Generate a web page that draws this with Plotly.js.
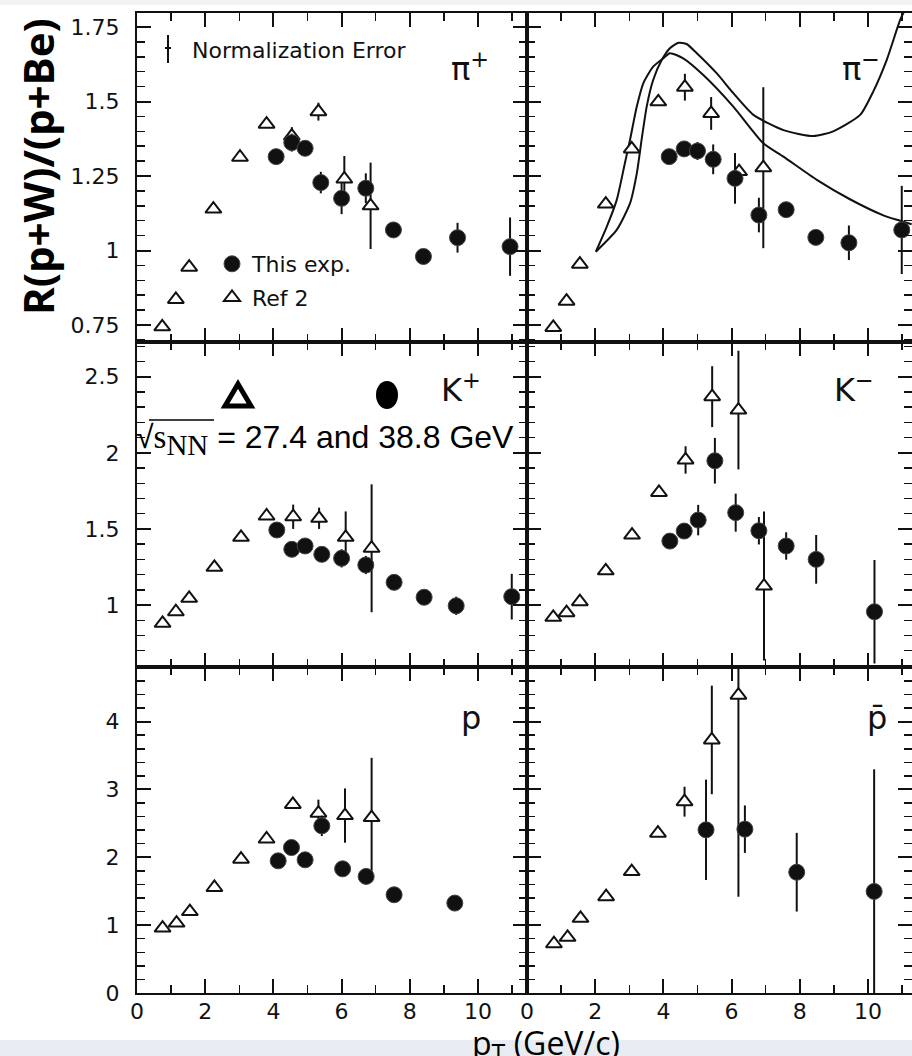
<!DOCTYPE html>
<html>
<head>
<meta charset="utf-8">
<script src="https://cdn.plot.ly/plotly-3.0.1.min.js"></script>
<style>html,body{margin:0;padding:0;background:#fff;overflow:hidden}</style>
</head>
<body>
<div id="chart" style="width:912px;height:1056px"></div>
<script>
// ---------- data ----------
// pi+
const piPlusExpX   = [4.08, 4.54, 4.93, 5.39, 6.00, 6.71, 7.52, 8.40, 9.40, 10.94];
const piPlusExpY   = [1.315, 1.362, 1.343, 1.228, 1.175, 1.209, 1.069, 0.980, 1.043, 1.013];
const piPlusExpErr = [0.01, 0.03, 0.025, 0.036, 0.053, 0.05, 0, 0, 0.05, 0.098];
const piPlusRefX   = [0.74, 1.14, 1.53, 2.24, 3.02, 3.80, 4.54, 5.32, 6.08, 6.85];
const piPlusRefY   = [0.744, 0.836, 0.944, 1.139, 1.313, 1.424, 1.384, 1.466, 1.240, 1.150];
const piPlusRefErr = [0, 0, 0, 0, 0, 0, 0.03, 0.03, 0.077, 0.145];
// pi-
const piMinusExpX   = [4.17, 4.61, 5.00, 5.46, 6.10, 6.80, 7.60, 8.47, 9.44, 10.99];
const piMinusExpY   = [1.315, 1.341, 1.334, 1.306, 1.242, 1.119, 1.137, 1.044, 1.026, 1.069];
const piMinusExpErr = [0.01, 0.02, 0.03, 0.05, 0.085, 0.058, 0, 0, 0.058, 0.148];
const piMinusRefX   = [0.77, 1.16, 1.55, 2.31, 3.07, 3.85, 4.63, 5.40, 6.22, 6.93];
const piMinusRefY   = [0.742, 0.830, 0.954, 1.156, 1.341, 1.499, 1.548, 1.460, 1.265, 1.278];
const piMinusRefErr = [0, 0, 0, 0, 0, 0, 0.045, 0.055, 0, 0.27];
// pi- theory curves
const curveAX = [2.02, 2.34, 2.63, 2.87, 3.02, 3.22, 3.41, 3.70, 4.00, 4.19, 4.58, 5.17, 6.05, 6.93, 7.52, 8.50, 9.47, 10.45, 10.94, 11.28];
const curveAY = [0.996, 1.080, 1.169, 1.293, 1.371, 1.483, 1.561, 1.617, 1.645, 1.662, 1.645, 1.589, 1.483, 1.360, 1.315, 1.237, 1.172, 1.118, 1.100, 1.088];
const curveBX = [2.02, 2.63, 3.02, 3.22, 3.36, 3.51, 3.70, 3.95, 4.19, 4.44, 4.68, 4.98, 5.56, 6.05, 6.64, 7.52, 8.40, 8.98, 9.77, 10.16, 10.55, 10.94, 11.08];
const curveBY = [0.996, 1.069, 1.158, 1.259, 1.371, 1.483, 1.572, 1.639, 1.679, 1.697, 1.693, 1.662, 1.595, 1.528, 1.455, 1.404, 1.384, 1.400, 1.455, 1.535, 1.640, 1.773, 1.807];
// K+
const kPlusExpX   = [4.10, 4.54, 4.93, 5.42, 6.00, 6.71, 7.54, 8.42, 9.36, 10.99];
const kPlusExpY   = [1.493, 1.366, 1.388, 1.333, 1.307, 1.263, 1.149, 1.051, 0.995, 1.055];
const kPlusExpErr = [0.02, 0.02, 0.02, 0.05, 0.06, 0.06, 0, 0, 0.06, 0.15];
const kPlusRefX   = [0.75, 1.14, 1.53, 2.27, 3.05, 3.80, 4.58, 5.34, 6.12, 6.88];
const kPlusRefY   = [0.880, 0.956, 1.044, 1.248, 1.445, 1.585, 1.580, 1.570, 1.445, 1.373];
const kPlusRefErr = [0, 0, 0, 0, 0, 0, 0.08, 0.07, 0.17, 0.42];
// K-
const kMinusExpX   = [4.19, 4.61, 5.02, 5.51, 6.12, 6.80, 7.60, 8.48, 10.19];
const kMinusExpY   = [1.420, 1.486, 1.558, 1.948, 1.607, 1.488, 1.388, 1.300, 0.956];
const kMinusExpErr = [0.02, 0.04, 0.10, 0.15, 0.125, 0.09, 0.09, 0.16, 0.34];
const kMinusRefX   = [0.77, 1.16, 1.55, 2.31, 3.08, 3.87, 4.65, 5.43, 6.20, 6.95];
const kMinusRefY   = [0.919, 0.950, 1.022, 1.225, 1.460, 1.740, 1.953, 2.369, 2.281, 1.125];
const kMinusRefErr = [0, 0, 0, 0, 0, 0, 0.09, 0.20, 0.39, 0.49];
// p
const pExpX   = [4.14, 4.53, 4.93, 5.42, 6.03, 6.72, 7.54, 9.32];
const pExpY   = [1.948, 2.144, 1.963, 2.464, 1.830, 1.718, 1.448, 1.325];
const pExpErr = [0, 0.08, 0, 0.15, 0, 0, 0, 0];
const pRefX   = [0.75, 1.16, 1.55, 2.27, 3.05, 3.80, 4.57, 5.32, 6.10, 6.88];
const pRefY   = [0.957, 1.030, 1.200, 1.555, 1.973, 2.270, 2.780, 2.650, 2.615, 2.586];
const pRefErr = [0, 0, 0, 0, 0, 0, 0, 0.2, 0.4, 0.88];
// p-bar
const pbarExpX   = [5.25, 6.39, 7.91, 10.18];
const pbarExpY   = [2.405, 2.415, 1.780, 1.497];
const pbarExpErr = [0.74, 0.35, 0.58, 1.8];
const pbarRefX   = [0.79, 1.19, 1.57, 2.32, 3.07, 3.84, 4.62, 5.42, 6.20];
const pbarRefY   = [0.726, 0.820, 1.100, 1.420, 1.790, 2.356, 2.820, 3.730, 4.390];
const pbarRefErr = [0, 0, 0, 0, 0, 0, 0.22, 0.8, 2.97];

const panelLabels = ['π<sup>+</sup>', 'π<sup>−</sup>', 'K<sup>+</sup>', 'K<sup>−</sup>', 'p', 'p̄'];
const legendNames = ['This exp.', 'Ref 2'];

// ---------- helpers ----------
const INK = '#111';
function refTrace(x, y, e, xa, ya, show) {
  return {x, y, xaxis: xa, yaxis: ya, type: 'scatter', mode: 'markers', name: legendNames[1],
    legendgroup: 'ref', showlegend: show, legendrank: 2,
    marker: {symbol: 'triangle-up', size: 14, color: 'white', line: {color: INK, width: 2}},
    error_y: {type: 'data', array: e, visible: true, thickness: 2, width: 0, color: INK}};
}
function expTrace(x, y, e, xa, ya, show) {
  return {x, y, xaxis: xa, yaxis: ya, type: 'scatter', mode: 'markers', name: legendNames[0],
    legendgroup: 'exp', showlegend: show, legendrank: 1,
    marker: {symbol: 'circle', size: 16, color: INK, line: {color: '#444', width: 1}},
    error_y: {type: 'data', array: e, visible: true, thickness: 2, width: 0, color: INK}};
}
function curveTrace(x, y) {
  return {x, y, xaxis: 'x2', yaxis: 'y2', type: 'scatter', mode: 'lines', showlegend: false,
    line: {color: INK, width: 2, shape: 'spline', smoothing: 0.6}, hoverinfo: 'skip'};
}

const data = [
  curveTrace(curveAX, curveAY), curveTrace(curveBX, curveBY),
  refTrace(piPlusRefX, piPlusRefY, piPlusRefErr, 'x', 'y', true),
  expTrace(piPlusExpX, piPlusExpY, piPlusExpErr, 'x', 'y', true),
  refTrace(piMinusRefX, piMinusRefY, piMinusRefErr, 'x2', 'y2', false),
  expTrace(piMinusExpX, piMinusExpY, piMinusExpErr, 'x2', 'y2', false),
  refTrace(kPlusRefX, kPlusRefY, kPlusRefErr, 'x3', 'y3', false),
  expTrace(kPlusExpX, kPlusExpY, kPlusExpErr, 'x3', 'y3', false),
  refTrace(kMinusRefX, kMinusRefY, kMinusRefErr, 'x4', 'y4', false),
  expTrace(kMinusExpX, kMinusExpY, kMinusExpErr, 'x4', 'y4', false),
  refTrace(pRefX, pRefY, pRefErr, 'x5', 'y5', false),
  expTrace(pExpX, pExpY, pExpErr, 'x5', 'y5', false),
  refTrace(pbarRefX, pbarRefY, pbarRefErr, 'x6', 'y6', false),
  expTrace(pbarExpX, pbarExpY, pbarExpErr, 'x6', 'y6', false)
];

// ---------- layout ----------
const ML = 137, MT = 13, MB = 63, W = 912, H = 1056;
const PW = W - ML, PH = H - MT - MB;
const px = v => (v - ML) / PW;          // pixel -> paper x
const py = v => (H - MB - v) / PH;      // pixel -> paper y

const TICKFONT = {family: 'DejaVu Sans', size: 22, color: INK};
function ax(extra) {
  return Object.assign({
    showline: true, linecolor: INK, linewidth: 2, mirror: 'ticks',
    ticks: 'inside', ticklen: 14, tickwidth: 2, tickcolor: INK,
    showgrid: false, zeroline: false, tickfont: TICKFONT, fixedrange: true
  }, extra);
}
const MINOR = d => ({dtick: d, ticks: 'inside', ticklen: 8, tickwidth: 1.5, tickcolor: INK});
const xL = [0, px(527)], xR = [px(527), 1];
const rowT = [py(342), 1], rowM = [py(667), py(342)], rowB = [0, py(667)];
const xRangeL = [0, 390 / 34.1], xRangeR = [0, (W - 527) / 34.1];
const xTick = {dtick: 2, tick0: 0, minor: MINOR(1), ticklabelstandoff: -2};
const yT = {range: [0.693, 1.797], dtick: 0.25, tick0: 0.75, minor: MINOR(0.05), ticklabelstandoff: 11};
const yM = {range: [0.593, 2.728], dtick: 0.5, tick0: 1, minor: MINOR(0.1), ticklabelstandoff: 11};
const yB = {range: [0, 4.805], dtick: 1, tick0: 0, minor: MINOR(0.2), ticklabelstandoff: 11};

function label(text, x, y, size, extra) {
  return Object.assign({text, xref: 'paper', yref: 'paper', x: px(x), y: py(y),
    xanchor: 'center', yanchor: 'middle', showarrow: false,
    font: {family: 'DejaVu Sans', size, color: INK}}, extra || {});
}

const layout = {
  width: W, height: H,
  margin: {l: ML, r: 0, t: MT, b: MB, pad: 0},
  paper_bgcolor: 'white', plot_bgcolor: 'white',
  font: {family: 'DejaVu Sans', color: INK},
  xaxis:  ax(Object.assign({domain: xL, range: xRangeL, anchor: 'y',  showticklabels: false}, xTick)),
  xaxis2: ax(Object.assign({domain: xR, range: xRangeR, anchor: 'y2', showticklabels: false}, xTick)),
  xaxis3: ax(Object.assign({domain: xL, range: xRangeL, anchor: 'y3', showticklabels: false}, xTick)),
  xaxis4: ax(Object.assign({domain: xR, range: xRangeR, anchor: 'y4', showticklabels: false}, xTick)),
  xaxis5: ax(Object.assign({domain: xL, range: xRangeL, anchor: 'y5'}, xTick)),
  xaxis6: ax(Object.assign({domain: xR, range: xRangeR, anchor: 'y6'}, xTick)),
  yaxis:  ax(Object.assign({domain: rowT, anchor: 'x'}, yT)),
  yaxis2: ax(Object.assign({domain: rowT, anchor: 'x2', showticklabels: false}, yT)),
  yaxis3: ax(Object.assign({domain: rowM, anchor: 'x3'}, yM)),
  yaxis4: ax(Object.assign({domain: rowM, anchor: 'x4', showticklabels: false}, yM)),
  yaxis5: ax(Object.assign({domain: rowB, anchor: 'x5'}, yB)),
  yaxis6: ax(Object.assign({domain: rowB, anchor: 'x6', showticklabels: false}, yB)),
  showlegend: true,
  legend: {x: px(212), y: py(243), xanchor: 'left', yanchor: 'top', bgcolor: 'rgba(0,0,0,0)',
           font: {family: 'DejaVu Sans', size: 22, color: INK}, tracegroupgap: 2, traceorder: 'grouped'},
  shapes: [
    // tinted bands of the source image
    {type: 'rect', xref: 'paper', yref: 'paper', x0: px(0), x1: px(W), y0: py(H), y1: py(1040),
     fillcolor: '#e9edf3', line: {width: 0}, layer: 'below'},
    {type: 'rect', xref: 'paper', yref: 'paper', x0: px(0), x1: px(W), y0: py(5), y1: py(0),
     fillcolor: '#f1f2f4', line: {width: 0}, layer: 'below'},
    // normalization error glyph
    {type: 'line', xref: 'paper', yref: 'paper', x0: px(168), x1: px(168), y0: py(35), y1: py(63), line: {color: INK, width: 2}},
    {type: 'line', xref: 'paper', yref: 'paper', x0: px(165), x1: px(171), y0: py(48), y1: py(48), line: {color: INK, width: 2}},
    // overlay key: bold triangle and filled ellipse
    {type: 'path', xref: 'paper', yref: 'paper',
     path: `M ${px(238)} ${py(384)} L ${px(251)} ${py(406)} L ${px(225)} ${py(406)} Z`,
     line: {color: 'black', width: 5}, fillcolor: 'white'},
    {type: 'circle', xref: 'paper', yref: 'paper', x0: px(376), x1: px(398), y0: py(409), y1: py(381),
     fillcolor: 'black', line: {color: 'black', width: 0}},
    // overline of the square root
    {type: 'line', xref: 'paper', yref: 'paper', x0: px(149), x1: px(214), y0: py(420), y1: py(420), line: {color: 'black', width: 1.5}}
  ],
  annotations: [
    label('<b>R(p+W)/(p+Be)</b>', 37, 167, 42, {textangle: -90, font: {family: 'Open Sans', size: 42, color: 'black'}}),
    label('p<sub><span style="font-size:25px">T</span></sub> (GeV/c)', 546, 1045, 32, {font: {family: 'Open Sans', size: 32, color: 'black'}}),
    label('Normalization Error', 190, 50, 22, {xanchor: 'left'}),
    label(panelLabels[0], 470, 67, 32),
    label(panelLabels[1], 861, 67, 32),
    label(panelLabels[2], 461, 388, 32),
    label(panelLabels[3], 854, 388, 32),
    label(panelLabels[4], 471, 718, 32),
    label(panelLabels[5], 877, 718, 32),
    label('√<span style="font-family:Liberation Serif;font-size:33px">s<sub><span style="font-size:29px">NN</span></sub></span> = 27.4 and 38.8 GeV',
          134, 440, 32, {xanchor: 'left', font: {family: 'Liberation Sans', size: 32, color: 'black'}})
  ]
};

Plotly.newPlot('chart', data, layout, {displayModeBar: false, staticPlot: true});
</script>
</body>
</html>
